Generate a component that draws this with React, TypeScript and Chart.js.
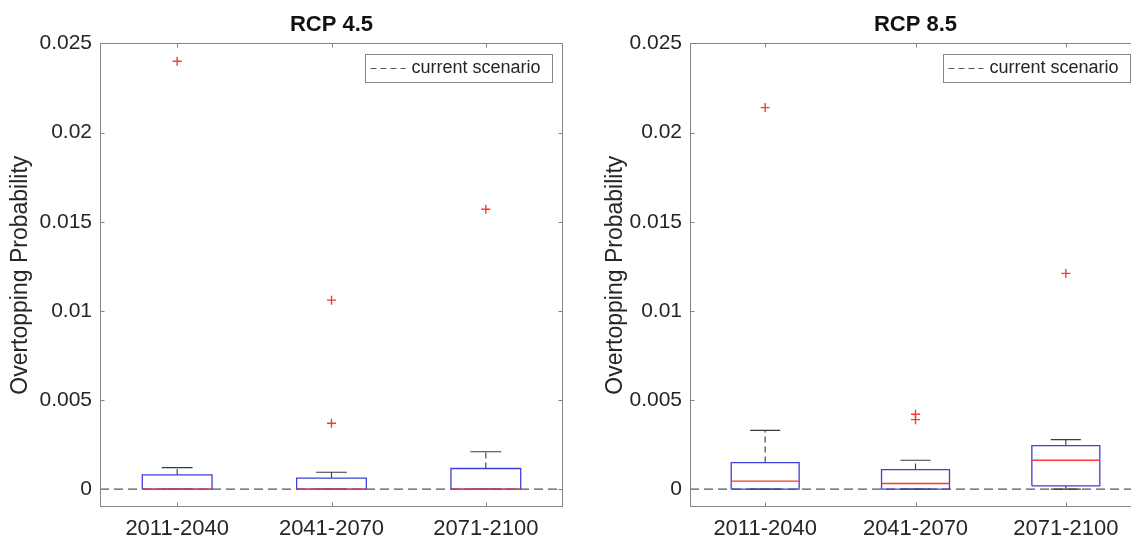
import { useEffect, useRef } from "react";
import { Chart, registerables } from "chart.js";

Chart.register(...registerables);

// ---------------- data ----------------
const categories = ["2011-2040", "2041-2070", "2071-2100"];
const categoryPositions = [1, 2, 3];
const yTickValues = [0, 0.005, 0.01, 0.015, 0.02, 0.025];
const yTickLabels = ["0", "0.005", "0.01", "0.015", "0.02", "0.025"];
const yAxisTitle = "Overtopping Probability";
const legendLabel = "current scenario";
const currentScenario = 0;

const rcp45Title = "RCP 4.5";
const rcp45Q1 = [0, 0, 0];
const rcp45Median = [0, 0, 0];
const rcp45Q3 = [0.0008, 0.00062, 0.00116];
const rcp45WhiskerLow = [0, 0, 0];
const rcp45WhiskerHigh = [0.00121, 0.00095, 0.0021];
const rcp45Outliers = [[0.024], [0.0106, 0.0037], [0.0157]];

const rcp85Title = "RCP 8.5";
const rcp85Q1 = [0, 0, 0.00018];
const rcp85Median = [0.00045, 0.00032, 0.00162];
const rcp85Q3 = [0.00149, 0.0011, 0.00244];
const rcp85WhiskerLow = [0, 0, 0];
const rcp85WhiskerHigh = [0.0033, 0.00162, 0.00278];
const rcp85Outliers = [[0.0214], [0.0042, 0.0039], [0.0121]];

// ---------------- styles ----------------
const FONT = "'Liberation Sans', Arial, Helvetica, sans-serif";
const TEXT = "#262626";
const AXIS = "#8a827d";
const BLUE = "#3f3fdc";
const RED = "#ff3636";
const WHISKER = "#3a3a3a";
const BOX_HALF = 0.226;
const CAP_HALF = 0.1;

function buildDatasets(q1: number[], med: number[], q3: number[], wl: number[], wh: number[], outl: number[][]) {
  const gap = (x: number) => ({ x, y: null as any });
  const box: any[] = [];
  const medians: any[] = [];
  const whiskers: any[] = [];
  const caps: any[] = [];
  const outliers: any[] = [];
  categoryPositions.forEach((c, i) => {
    box.push(
      { x: c - BOX_HALF, y: q1[i] },
      { x: c + BOX_HALF, y: q1[i] },
      { x: c + BOX_HALF, y: q3[i] },
      { x: c - BOX_HALF, y: q3[i] },
      { x: c - BOX_HALF, y: q1[i] },
      gap(c)
    );
    medians.push({ x: c - BOX_HALF, y: med[i] }, { x: c + BOX_HALF, y: med[i] }, gap(c));
    if (wh[i] > q3[i]) whiskers.push({ x: c, y: q3[i] }, { x: c, y: wh[i] }, gap(c));
    if (wl[i] < q1[i]) whiskers.push({ x: c, y: q1[i] }, { x: c, y: wl[i] }, gap(c));
    caps.push({ x: c - CAP_HALF, y: wh[i] }, { x: c + CAP_HALF, y: wh[i] }, gap(c));
    caps.push({ x: c - CAP_HALF, y: wl[i] }, { x: c + CAP_HALF, y: wl[i] }, gap(c));
    outl[i].forEach((v) => outliers.push({ x: c, y: v }));
  });
  const line = (data: any[], color: string, width: number, dash: number[] = []) => ({
    data,
    showLine: true,
    borderColor: color,
    borderWidth: width,
    borderDash: dash,
    pointRadius: 0,
    pointHoverRadius: 0,
    spanGaps: false,
    tension: 0,
    fill: false,
  });
  return [
    line(medians, RED, 1.4),
    line(box, BLUE, 1.3),
    line(caps, WHISKER, 1.1),
    line(whiskers, WHISKER, 1.1, [6, 4]),
    {
      data: outliers,
      showLine: false,
      pointStyle: "cross",
      pointRadius: 4.5,
      pointHoverRadius: 4.5,
      borderColor: RED,
      backgroundColor: RED,
      borderWidth: 1.4,
    },
    {
      ...line(
        [
          { x: 0.5, y: currentScenario },
          { x: 3.5, y: currentScenario },
        ],
        "#555555",
        1.1,
        [9, 5]
      ),
      label: legendLabel,
      legendEntry: true,
    },
  ];
}

const framePlugin = {
  id: "frame",
  afterDatasetsDraw(chart: any) {
    const { ctx, chartArea: a, scales } = chart;
    ctx.save();
    ctx.strokeStyle = AXIS;
    ctx.lineWidth = 1;
    const l = Math.round(a.left) + 0.5;
    const r = Math.round(a.right) - 0.5;
    const t = Math.round(a.top) + 0.5;
    const b = Math.round(a.bottom) - 0.5;
    ctx.strokeRect(l, t, r - l, b - t);
    ctx.beginPath();
    scales.x.ticks.forEach((tk: any) => {
      const px = Math.round(scales.x.getPixelForValue(tk.value)) + 0.5;
      ctx.moveTo(px, b);
      ctx.lineTo(px, b - 4);
      ctx.moveTo(px, t);
      ctx.lineTo(px, t + 4);
    });
    scales.y.ticks.forEach((tk: any) => {
      const py = Math.round(scales.y.getPixelForValue(tk.value)) + 0.5;
      ctx.moveTo(l, py);
      ctx.lineTo(l + 4, py);
      ctx.moveTo(r, py);
      ctx.lineTo(r - 4, py);
    });
    ctx.stroke();
    ctx.restore();
  },
};

const legendPlugin = {
  id: "insideLegend",
  afterDraw(chart: any) {
    const ds = chart.data.datasets.find((d: any) => d.legendEntry);
    if (!ds) return;
    const { ctx, chartArea: a } = chart;
    const w = 187;
    const h = 28;
    const x = Math.round(a.right - 11 - w) + 0.5;
    const y = Math.round(a.top + 11) + 0.5;
    ctx.save();
    ctx.fillStyle = "#ffffff";
    ctx.fillRect(x, y, w, h);
    ctx.strokeStyle = AXIS;
    ctx.lineWidth = 1;
    ctx.strokeRect(x, y, w, h);
    const cy = y + h / 2;
    ctx.strokeStyle = ds.borderColor;
    ctx.setLineDash([6, 4]);
    ctx.beginPath();
    ctx.moveTo(x + 5, cy);
    ctx.lineTo(x + 40, cy);
    ctx.stroke();
    ctx.setLineDash([]);
    ctx.fillStyle = TEXT;
    ctx.font = `18px ${FONT}`;
    ctx.textBaseline = "middle";
    ctx.textAlign = "left";
    ctx.fillText(ds.label, x + 46, cy);
    ctx.restore();
  },
};

function makeConfig(
  title: string,
  q1: number[],
  med: number[],
  q3: number[],
  wl: number[],
  wh: number[],
  outl: number[][],
  padLeft: number,
  padRight: number,
  yWidth: number
): any {
  return {
    type: "scatter",
    data: { datasets: buildDatasets(q1, med, q3, wl, wh, outl) },
    options: {
      responsive: false,
      animation: false,
      devicePixelRatio: 1,
      events: [],
      layout: { padding: { left: padLeft, right: padRight, top: 0, bottom: 0 } },
      plugins: {
        legend: { display: false },
        tooltip: { enabled: false },
        title: {
          display: true,
          text: title,
          fullSize: false,
          color: "#111111",
          font: { family: FONT, size: 22, weight: "bold" },
          padding: { top: 12, bottom: 5 },
        },
      },
      scales: {
        x: {
          type: "linear",
          min: 0.5,
          max: 3.5,
          afterBuildTicks: (s: any) => {
            s.ticks = categoryPositions.map((v) => ({ value: v }));
          },
          afterFit: (s: any) => {
            s.height = 34;
          },
          ticks: {
            autoSkip: false,
            maxRotation: 0,
            padding: 9,
            color: TEXT,
            font: { family: FONT, size: 22 },
            callback: (v: any) => {
              const i = categoryPositions.indexOf(v);
              return i >= 0 ? categories[i] : "";
            },
          },
          grid: { display: false, drawTicks: false },
          border: { display: false },
        },
        y: {
          type: "linear",
          min: -0.001,
          max: 0.025,
          afterBuildTicks: (s: any) => {
            s.ticks = yTickValues.map((v) => ({ value: v }));
          },
          afterFit: (s: any) => {
            s.width = yWidth;
          },
          ticks: {
            padding: 8,
            color: TEXT,
            font: { family: FONT, size: 21 },
            callback: (v: any) => {
              const i = yTickValues.indexOf(v);
              return i >= 0 ? yTickLabels[i] : "";
            },
          },
          title: {
            display: true,
            text: yAxisTitle,
            color: TEXT,
            font: { family: FONT, size: 23 },
            padding: { top: 7, bottom: 0 },
          },
          grid: { display: false, drawTicks: false },
          border: { display: false },
        },
      },
    },
    plugins: [framePlugin, legendPlugin],
  };
}

function BoxChart(props: { config: any; left: number; width: number }) {
  const ref = useRef<HTMLCanvasElement | null>(null);
  useEffect(() => {
    if (!ref.current) return;
    const chart = new Chart(ref.current, props.config);
    return () => chart.destroy();
  }, []);
  return (
    <canvas
      ref={ref}
      width={props.width}
      height={541}
      style={{ position: "absolute", left: props.left, top: 0, width: props.width, height: 541 }}
    />
  );
}

export default function App() {
  const left = makeConfig(
    rcp45Title,
    rcp45Q1,
    rcp45Median,
    rcp45Q3,
    rcp45WhiskerLow,
    rcp45WhiskerHigh,
    rcp45Outliers,
    0,
    17,
    100
  );
  const right = makeConfig(
    rcp85Title,
    rcp85Q1,
    rcp85Median,
    rcp85Q3,
    rcp85WhiskerLow,
    rcp85WhiskerHigh,
    rcp85Outliers,
    10,
    19,
    95
  );
  return (
    <div
      style={{
        position: "absolute",
        left: 0,
        top: 0,
        width: 1131,
        height: 541,
        overflow: "hidden",
        background: "#ffffff",
      }}
    >
      <BoxChart config={left} left={0} width={580} />
      <BoxChart config={right} left={585} width={575} />
    </div>
  );
}
